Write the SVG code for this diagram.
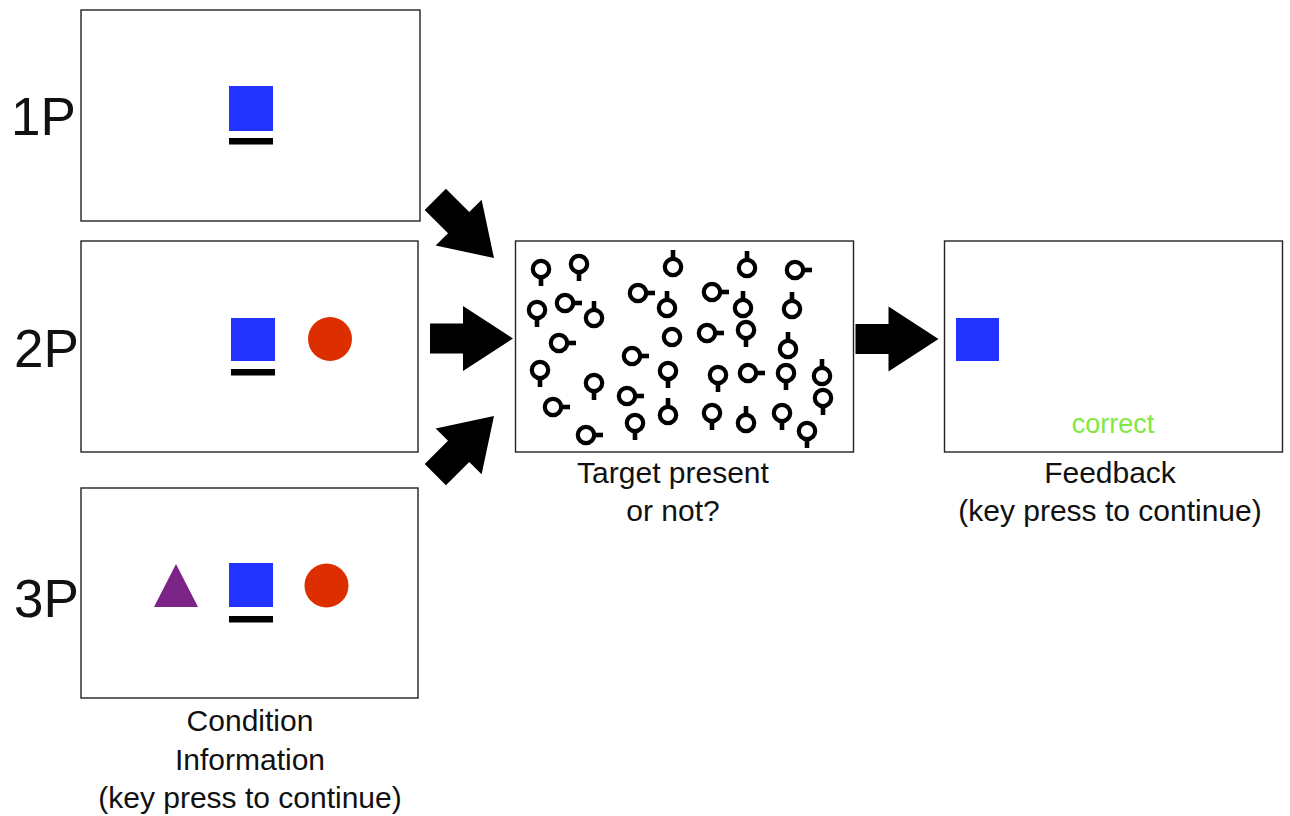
<svg xmlns="http://www.w3.org/2000/svg" xmlns:xlink="http://www.w3.org/1999/xlink" width="1290" height="816" viewBox="0 0 1290 816">
  <style>
    .frame { fill: #fff; stroke: #222; stroke-width: 1.4; }
    .lbl { font-family: "Liberation Sans", Arial, sans-serif; fill: #111; text-anchor: middle; font-size: 30px; }
    .big { font-family: "Liberation Sans", Arial, sans-serif; fill: #111; font-size: 53px; }
    .blue { fill: #2233ff; }
    .red { fill: #dd2e00; }
    .bar { fill: #000; }
    .arrow { fill: #000; }
    .ring { fill: none; stroke: #000; stroke-width: 4.2; }
  </style>
  <defs>
    <!-- block arrow pointing along +x, origin at the back of the shaft -->
    <path id="blockArrow" d="M0,-15 H33 V-32.5 L83,0 L33,32.5 V15 H0 Z"/>
    <!-- search items: ring with a short stem -->
    <g id="gd"><circle class="ring" cx="0" cy="0" r="8.2"/><rect x="-2.3" y="9" width="4.6" height="8"/></g>
    <g id="gu"><circle class="ring" cx="0" cy="0" r="8.2"/><rect x="-2.3" y="-17" width="4.6" height="8"/></g>
    <g id="gr"><circle class="ring" cx="0" cy="0" r="8.2"/><rect x="9" y="-2.3" width="8" height="4.6"/></g>
    <g id="go"><circle class="ring" cx="0" cy="0" r="8.2"/></g>
  </defs>

  <rect width="1290" height="816" fill="#fff"/>

  <!-- condition screens -->
  <g id="cond1P">
    <rect class="frame" x="81" y="10" width="339" height="211"/>
    <rect class="blue" x="229" y="86" width="44" height="45"/>
    <rect class="bar" x="229" y="138" width="44" height="6.5"/>
    <text class="big" x="11" y="135">1P</text>
  </g>
  <g id="cond2P">
    <rect class="frame" x="81" y="241" width="337" height="211"/>
    <rect class="blue" x="231" y="318" width="44" height="43"/>
    <rect class="bar" x="231" y="369" width="44" height="6.5"/>
    <circle class="red" cx="330" cy="339" r="22"/>
    <text class="big" x="14" y="367">2P</text>
  </g>
  <g id="cond3P">
    <rect class="frame" x="81" y="488" width="337" height="210"/>
    <polygon points="154,607 176,564 198,607" fill="#7d2489"/>
    <rect class="blue" x="229" y="563" width="44" height="44"/>
    <rect class="bar" x="229" y="616" width="44" height="6.5"/>
    <circle class="red" cx="326.5" cy="585.5" r="22"/>
    <text class="big" x="14" y="617">3P</text>
  </g>
  <g id="condLabel">
    <text class="lbl" x="250" y="731">Condition</text>
    <text class="lbl" x="250" y="770">Information</text>
    <text class="lbl" x="250" y="808">(key press to continue)</text>
  </g>

  <!-- search display -->
  <g id="search">
    <rect class="frame" x="515.5" y="241" width="338" height="211"/>
    <use xlink:href="#gd" x="541" y="269"/>
    <use xlink:href="#gd" x="579" y="264"/>
    <use xlink:href="#gd" x="537" y="310"/>
    <use xlink:href="#gd" x="746" y="330"/>
    <use xlink:href="#gd" x="540" y="370"/>
    <use xlink:href="#gd" x="594" y="383"/>
    <use xlink:href="#gd" x="668" y="371"/>
    <use xlink:href="#gd" x="635" y="423"/>
    <use xlink:href="#gd" x="718" y="375"/>
    <use xlink:href="#gd" x="786" y="373"/>
    <use xlink:href="#gd" x="823" y="398"/>
    <use xlink:href="#gd" x="712" y="413"/>
    <use xlink:href="#gd" x="782" y="413"/>
    <use xlink:href="#gd" x="807" y="431"/>
    <use xlink:href="#gu" x="673" y="267"/>
    <use xlink:href="#gu" x="747" y="268"/>
    <use xlink:href="#gu" x="594" y="318"/>
    <use xlink:href="#gu" x="667" y="308"/>
    <use xlink:href="#gu" x="743" y="308"/>
    <use xlink:href="#gu" x="792" y="309"/>
    <use xlink:href="#gu" x="788" y="349"/>
    <use xlink:href="#gu" x="668" y="415"/>
    <use xlink:href="#gu" x="746" y="423"/>
    <use xlink:href="#gu" x="822" y="376"/>
    <use xlink:href="#gr" x="795" y="270"/>
    <use xlink:href="#gr" x="565" y="303"/>
    <use xlink:href="#gr" x="638" y="293"/>
    <use xlink:href="#gr" x="712" y="292"/>
    <use xlink:href="#gr" x="559" y="343"/>
    <use xlink:href="#gr" x="707" y="333"/>
    <use xlink:href="#gr" x="632" y="356"/>
    <use xlink:href="#gr" x="627" y="396"/>
    <use xlink:href="#gr" x="553" y="407"/>
    <use xlink:href="#gr" x="586" y="435"/>
    <use xlink:href="#gr" x="748" y="373"/>
    <use xlink:href="#go" x="672" y="337"/>
    <text class="lbl" x="673" y="483">Target present</text>
    <text class="lbl" x="673" y="521">or not?</text>
  </g>

  <!-- feedback screen -->
  <g id="feedback">
    <rect class="frame" x="944.5" y="241" width="338" height="211"/>
    <rect class="blue" x="956" y="318" width="43" height="43"/>
    <text x="1113" y="433" font-family="'Liberation Sans', Arial, sans-serif" font-size="27" fill="#80e840" text-anchor="middle">correct</text>
    <text class="lbl" x="1110" y="483">Feedback</text>
    <text class="lbl" x="1110" y="521">(key press to continue)</text>
  </g>

  <!-- connectors -->
  <g id="connectors" class="arrow">
    <use xlink:href="#blockArrow" transform="translate(435.3,199.3) rotate(45)"/>
    <use xlink:href="#blockArrow" transform="translate(430,338.5)"/>
    <use xlink:href="#blockArrow" transform="translate(435.3,474.7) rotate(-45)"/>
    <use xlink:href="#blockArrow" transform="translate(855.5,339)"/>
  </g>
</svg>
